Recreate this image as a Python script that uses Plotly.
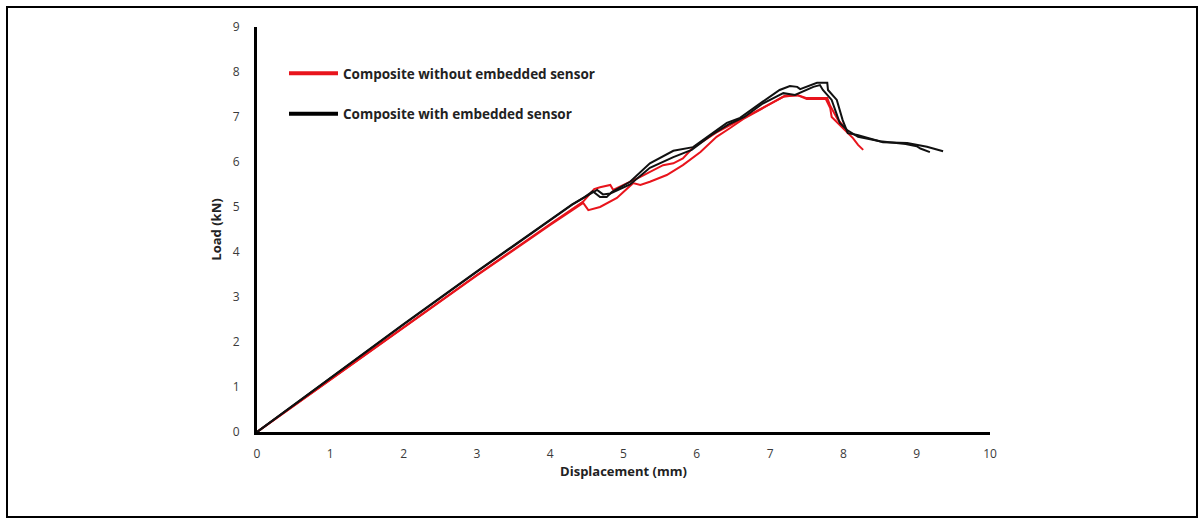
import plotly.graph_objects as go

# Composite without embedded sensor (two specimens, red)
red1_x = [0, 0.5, 1, 2, 3, 4, 4.3, 4.45, 4.6, 4.68, 4.82, 4.86, 5.05, 5.23, 5.54, 5.68, 5.81, 5.95, 6.27, 6.45, 6.63, 6.96, 7.18, 7.37, 7.5, 7.78, 7.82, 7.92, 8.0]
red1_y = [0, 0.58, 1.17, 2.34, 3.49, 4.62, 4.95, 5.12, 5.4, 5.44, 5.49, 5.38, 5.53, 5.67, 5.93, 5.97, 6.08, 6.32, 6.66, 6.82, 6.98, 7.27, 7.45, 7.49, 7.42, 7.42, 7.25, 6.95, 6.8]
red2_x = [0, 0.5, 1, 2, 3, 4, 4.3, 4.45, 4.52, 4.68, 4.91, 5.13, 5.23, 5.36, 5.59, 5.81, 6.05, 6.27, 6.45, 6.63, 6.96, 7.2, 7.38, 7.5, 7.76, 7.82, 7.84, 7.98, 8.13, 8.2, 8.27]
red2_y = [0, 0.58, 1.17, 2.33, 3.48, 4.6, 4.93, 5.09, 4.93, 5.0, 5.2, 5.53, 5.49, 5.56, 5.71, 5.93, 6.22, 6.56, 6.75, 6.95, 7.25, 7.47, 7.48, 7.4, 7.4, 7.2, 7.0, 6.78, 6.53, 6.38, 6.27]

# Composite with embedded sensor (two specimens, black)
blk1_x = [0, 0.5, 1, 2, 3, 4, 4.3, 4.47, 4.58, 4.68, 4.77, 4.84, 5.09, 5.36, 5.68, 5.95, 6.04, 6.41, 6.59, 6.89, 7.13, 7.27, 7.37, 7.41, 7.64, 7.78, 7.79, 7.91, 7.99, 8.06, 8.19, 8.54, 8.87, 9.14, 9.36]
blk1_y = [0, 0.6, 1.2, 2.4, 3.57, 4.72, 5.06, 5.22, 5.35, 5.22, 5.22, 5.33, 5.56, 5.97, 6.25, 6.33, 6.44, 6.87, 6.98, 7.33, 7.6, 7.69, 7.67, 7.62, 7.76, 7.76, 7.6, 7.38, 6.93, 6.64, 6.6, 6.44, 6.42, 6.34, 6.24]
blk2_x = [0, 0.5, 1, 2, 3, 4, 4.3, 4.47, 4.64, 4.72, 4.82, 5.09, 5.36, 5.68, 5.93, 6.2, 6.45, 6.65, 6.9, 7.18, 7.34, 7.59, 7.68, 7.72, 7.84, 7.95, 8.05, 8.2, 8.5, 8.85, 9.0, 9.05, 9.18]
blk2_y = [0, 0.6, 1.2, 2.39, 3.56, 4.71, 5.05, 5.22, 5.38, 5.28, 5.3, 5.5, 5.87, 6.11, 6.27, 6.6, 6.85, 7.0, 7.3, 7.53, 7.49, 7.67, 7.71, 7.6, 7.38, 6.87, 6.71, 6.56, 6.46, 6.4, 6.35, 6.3, 6.22]

x_ticks = [0, 1, 2, 3, 4, 5, 6, 7, 8, 9, 10]
y_ticks = [0, 1, 2, 3, 4, 5, 6, 7, 8, 9]

RED = "#e8141c"
BLACK = "#111111"

fig = go.Figure()
for xs, ys in [(red1_x, red1_y), (red2_x, red2_y)]:
    fig.add_trace(go.Scatter(x=xs, y=ys, mode="lines", line=dict(color=RED, width=2),
                             showlegend=False, hoverinfo="skip"))
for xs, ys in [(blk1_x, blk1_y), (blk2_x, blk2_y)]:
    fig.add_trace(go.Scatter(x=xs, y=ys, mode="lines", line=dict(color=BLACK, width=2),
                             showlegend=False, hoverinfo="skip"))

# legend entries
fig.add_trace(go.Scatter(x=[None], y=[None], mode="lines", line=dict(color=RED, width=4),
                         name="Composite without embedded sensor", legendgroup="a"))
fig.add_trace(go.Scatter(x=[None], y=[None], mode="lines", line=dict(color="#000000", width=4),
                         name="Composite with embedded sensor", legendgroup="b"))

L, R, T, B = 257, 213, 27, 91
W, H = 1203, 523
pw, ph = W - L - R, H - T - B

fig.update_layout(
    width=W, height=H,
    margin=dict(l=L, r=R, t=T, b=B),
    paper_bgcolor="white", plot_bgcolor="white",
    font=dict(family="Open Sans, sans-serif", color="#333333"),
    legend=dict(
        x=(284 - L) / pw, y=(432 - 58) / ph, xanchor="left", yanchor="top",
        font=dict(size=13.5, color="#222222", weight="bold"),
        itemwidth=49, tracegroupgap=20, traceorder="grouped",
        bgcolor="rgba(0,0,0,0)",
    ),
    xaxis=dict(
        range=[0, 10], tickvals=x_ticks, ticktext=[str(v) for v in x_ticks],
        showgrid=False, zeroline=False, showline=True, linecolor="black", linewidth=3,
        ticks="outside", ticklen=9, tickcolor="rgba(0,0,0,0)",
        tickfont=dict(size=12, color="#3a3a3a"),
        title=dict(text="Displacement (mm)", font=dict(size=13, color="#222222", weight="bold"), standoff=5),
    ),
    yaxis=dict(
        range=[0, 9], tickvals=y_ticks, ticktext=[str(v) for v in y_ticks],
        showgrid=False, zeroline=False, showline=True, linecolor="black", linewidth=3,
        ticks="outside", ticklen=12, tickcolor="rgba(0,0,0,0)",
        tickfont=dict(size=12, color="#3a3a3a"),
        title=dict(text="Load (kN)", font=dict(size=13, color="#222222", weight="bold"), standoff=9),
    ),
    shapes=[dict(type="rect", xref="paper", yref="paper",
                 x0=(7 - L) / pw, x1=(1197 - L) / pw,
                 y0=(432 - 517) / ph, y1=(432 - 7) / ph,
                 line=dict(color="black", width=2), fillcolor="rgba(0,0,0,0)", layer="below")],
)

fig.write_html("out.html")
